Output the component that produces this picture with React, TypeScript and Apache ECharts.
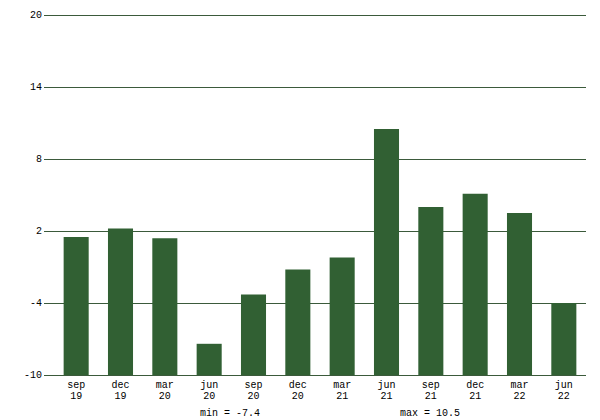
import React, { useEffect, useRef } from "react";
import * as echarts from "echarts";

const months = ["sep", "dec", "mar", "jun", "sep", "dec", "mar", "jun", "sep", "dec", "mar", "jun"];
const years = ["19", "19", "20", "20", "20", "20", "21", "21", "21", "21", "22", "22"];
const values = [1.5, 2.2, 1.4, -7.4, -3.3, -1.2, -0.2, 10.5, 4.0, 5.1, 3.5, -4.0];
const yTicks = [-10, -4, 2, 8, 14, 20];

const FONT = "Liberation Mono";
const BAR = "#316033";
const GRID = "#3b5a3b";

export default function App() {
  const ref = useRef<HTMLDivElement>(null);
  useEffect(() => {
    const chart = echarts.init(ref.current!, null, { renderer: "svg" });
    const categories = months.map((m, i) => m + "\n" + years[i]);
    const base = yTicks[0];
    const minV = Math.min(...values);
    const maxV = Math.max(...values);
    chart.setOption({
      animation: false,
      grid: { left: 54, right: 14, top: 15, bottom: 45, outerBoundsMode: "none" },
      xAxis: {
        type: "category",
        data: categories,
        boundaryGap: true,
        axisLine: { show: false },
        axisTick: { show: false },
        axisLabel: {
          fontFamily: FONT,
          fontSize: 10,
          color: "#000",
          lineHeight: 11,
          margin: 5,
          interval: 0,
        },
      },
      yAxis: {
        type: "value",
        min: yTicks[0],
        max: yTicks[yTicks.length - 1],
        interval: 6,
        axisLine: { show: false },
        axisTick: { show: true, length: 10, lineStyle: { color: GRID, width: 1 } },
        splitLine: { show: true, lineStyle: { color: GRID, width: 1 } },
        axisLabel: { fontFamily: FONT, fontSize: 10, color: "#000", margin: 12 },
      },
      series: [
        {
          type: "custom",
          data: values.map((v, i) => [i, v]),
          encode: { x: 0, y: 1 },
          z: 3,
          renderItem: (params: any, api: any) => {
            const i = api.value(0);
            const v = api.value(1);
            const top = api.coord([i, v]);
            const bot = api.coord([i, base]);
            const w = api.size([1, 0])[0] * 0.565;
            return {
              type: "rect",
              shape: { x: top[0] - w / 2, y: top[1], width: w, height: bot[1] - top[1] },
              style: { fill: BAR },
            };
          },
        },
      ],
      graphic: [
        {
          type: "text",
          x: 230,
          y: 413,
          style: {
            text: "min = " + minV.toFixed(1),
            fontFamily: FONT,
            fontSize: 10,
            fill: "#000000",
            align: "center",
            verticalAlign: "middle",
          },
        },
        {
          type: "text",
          x: 430,
          y: 413,
          style: {
            text: "max = " + maxV.toFixed(1),
            fontFamily: FONT,
            fontSize: 10,
            fill: "#000000",
            align: "center",
            verticalAlign: "middle",
          },
        },
      ],
    });
    return () => chart.dispose();
  }, []);
  return <div ref={ref} style={{ width: 600, height: 420, position: "absolute", left: 0, top: 0 }} />;
}
